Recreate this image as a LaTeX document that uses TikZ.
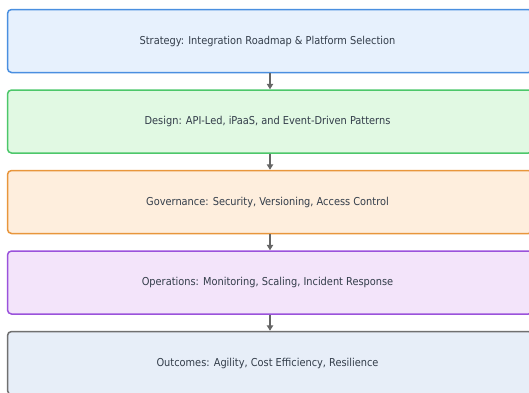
\documentclass[tikz,border=0pt]{standalone}
\usepackage{fontspec}
\setmainfont{DejaVu Sans Condensed}
\usetikzlibrary{arrows.meta}
\definecolor{txt}{HTML}{333D4A}
\definecolor{arr}{HTML}{666666}
\definecolor{f1}{HTML}{E7F1FD}\definecolor{d1}{HTML}{4A8FE0}
\definecolor{f2}{HTML}{E1F9E3}\definecolor{d2}{HTML}{4CC76A}
\definecolor{f3}{HTML}{FEEEDD}\definecolor{d3}{HTML}{E8963C}
\definecolor{f4}{HTML}{F3E4FA}\definecolor{d4}{HTML}{9A52DB}
\definecolor{f5}{HTML}{E7EEF8}\definecolor{d5}{HTML}{707070}
\tikzset{
  stage/.style={draw=#1, line width=1.5pt, rounded corners=4pt, minimum width=525pt, minimum height=63pt, inner sep=0pt, text=txt, font=\fontsize{10.9}{12}\selectfont},
  flow/.style={draw=arr, line width=1.1pt, -{Triangle[length=5.5pt,width=6.5pt]}}
}
\begin{document}
\begin{tikzpicture}[x=1pt,y=-1pt]
\useasboundingbox (0,0) rectangle (529,392);
\node[stage=d1, fill=f1] (s) at (270,41) {Strategy: Integration Roadmap \& Platform Selection\hspace*{5pt}};
\node[stage=d2, fill=f2] (d) at (270,121.5) {Design: API-Led, iPaaS, and Event-Driven Patterns\hspace*{5pt}};
\node[stage=d3, fill=f3] (g) at (270,202) {Governance: Security, Versioning, Access Control\hspace*{5pt}};
\node[stage=d4, fill=f4] (o) at (270,282.5) {Operations: Monitoring, Scaling, Incident Response\hspace*{5pt}};
\node[stage=d5, fill=f5] (u) at (270,363) {Outcomes: Agility, Cost Efficiency, Resilience\hspace*{5pt}};
\draw[flow] (s) -- (d);
\draw[flow] (d) -- (g);
\draw[flow] (g) -- (o);
\draw[flow] (o) -- (u);
\end{tikzpicture}
\end{document}
